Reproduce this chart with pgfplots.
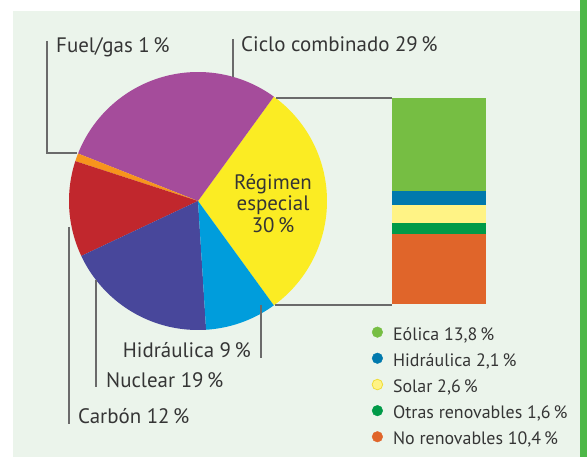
\documentclass[border=0pt]{standalone}
\usepackage{pgfplots}
\pgfplotsset{compat=1.18}
\usepackage{fontspec}
\setmainfont{PT Sans}
\definecolor{cpanel}{HTML}{EBF4EB}
\definecolor{cstrip}{HTML}{4DB848}
\definecolor{cpurple}{HTML}{A54C9B}
\definecolor{cyellow}{HTML}{FBEC23}
\definecolor{cblue}{HTML}{009DDC}
\definecolor{cnuclear}{HTML}{48479B}
\definecolor{cred}{HTML}{C1272D}
\definecolor{corange}{HTML}{F7941D}
\definecolor{bgreen}{HTML}{76BE43}
\definecolor{bblue}{HTML}{0079AD}
\definecolor{bsolar}{HTML}{FFF385}
\definecolor{bsolaredge}{HTML}{EFDD3A}
\definecolor{bdgreen}{HTML}{009A48}
\definecolor{borange}{HTML}{E0652A}
\definecolor{ctext}{HTML}{353535}
\definecolor{cline}{HTML}{6A6A6A}
% pie data (percent) and centre/radius in pixel units
\def\cx{198}\def\cy{201}\def\r{129}
\pgfmathsetmacro\aA{-54}
\pgfmathsetmacro\aB{\aA+3.6*30}% Regimen especial 30
\pgfmathsetmacro\aC{\aB+3.6*29}% Ciclo combinado 29
\pgfmathsetmacro\aD{\aC+3.6*1}%  Fuel/gas 1
\pgfmathsetmacro\aE{\aD+3.6*12}% Carbon 12
\pgfmathsetmacro\aF{\aE+3.6*19}% Nuclear 19
\pgfmathsetmacro\aG{\aF+3.6*9}%  Hidraulica 9
\newcommand\slice[3]{\fill[#3] (\cx,\cy) -- plot[domain=#1:#2, samples=80, variable=\t] ({\cx+\r*cos(\t)},{\cy-\r*sin(\t)}) -- cycle;}
\begin{document}
\begin{tikzpicture}
\begin{axis}[at={(0,0)}, anchor=south west, scale only axis, width=587bp, height=457bp,
  xmin=0, xmax=587, ymin=0, ymax=457, y dir=reverse, axis lines=none, ticks=none, clip=false]
\fill[white] (0,0) rectangle (587,457);
\fill[cpanel] (13,11) rectangle (580,457);
\fill[cstrip] (580,0) rectangle (587,457);
\slice{\aA}{\aB}{cyellow}
\slice{\aB}{\aC}{cpurple}
\slice{\aC}{\aD}{corange}
\slice{\aD}{\aE}{cred}
\slice{\aE}{\aF}{cnuclear}
\slice{\aF}{\aG}{cblue}
\begin{scope}[cline, line width=1.2bp]
\draw (47,41) -- (47,153) -- (77,153);
\draw (233,39) -- (233,77);
\draw (276,98) -- (392,98);
\draw (275,305) -- (392,305);
\draw (261,305) -- (261,358);
\draw (96,280) -- (96,387);
\draw (69,227) -- (69,424);
\end{scope}
\begin{scope}[every node/.style={text=ctext, font=\fontsize{21}{24}\selectfont, inner sep=0pt}]
\node[anchor=base west] at (56,53) {Fuel/gas 1\,\%};
\node[anchor=base west] at (241,52) {Ciclo combinado 29\,\%};
\node[anchor=base east] at (251,357) {Hidráulica 9\,\%};
\node[anchor=base west] at (106,387) {Nuclear 19\,\%};
\node[anchor=base west] at (78,423) {Carbón 12\,\%};
\node[anchor=base] at (273,189) {Régimen};
\node[anchor=base] at (273,210) {especial};
\node[anchor=base] at (273,232) {30\,\%};
\end{scope}
\end{axis}
% stacked bar of "Regimen especial"
\begin{axis}[at={(392bp,153bp)}, anchor=south west, scale only axis, width=94bp, height=206bp,
  xmin=-0.5, xmax=0.5, ymin=0, ymax=30.5, axis lines=none, ticks=none, clip=false,
  ybar stacked, bar width=94bp, enlargelimits=false]
\addplot[fill=borange, draw=none] coordinates {(0,10.4)};
\addplot[fill=bdgreen, draw=none] coordinates {(0,1.6)};
\addplot[fill=bsolar, draw=none] coordinates {(0,2.6)};
\addplot[fill=bblue, draw=none] coordinates {(0,2.1)};
\addplot[fill=bgreen, draw=none] coordinates {(0,13.8)};
\end{axis}
% legend
\begin{axis}[at={(392bp,153bp)}, anchor=south west, scale only axis, width=94bp, height=206bp,
  xmin=0, xmax=1, ymin=0, ymax=1, hide axis, clip=false,
  legend image code/.code={\draw[#1] (0bp,4.2bp) circle (5.3bp);},
  legend style={at={(-0.218,-0.109)}, anchor=north west, draw=none, fill=none,
    font=\fontsize{18}{20}\selectfont, text=ctext, row sep=9.4bp, inner sep=0pt,
    nodes={inner sep=0pt, text height=11bp, text depth=3bp},
    /tikz/every odd column/.append style={column sep=10bp}, legend cell align=left}]
\addlegendimage{fill=bgreen, draw=bgreen}
\addlegendentry{Eólica 13,8\,\%}
\addlegendimage{fill=bblue, draw=bblue}
\addlegendentry{Hidráulica 2,1\,\%}
\addlegendimage{fill=bsolar, draw=bsolaredge, line width=0.8bp}
\addlegendentry{Solar 2,6\,\%}
\addlegendimage{fill=bdgreen, draw=bdgreen}
\addlegendentry{Otras renovables 1,6\,\%}
\addlegendimage{fill=borange, draw=borange}
\addlegendentry{No renovables 10,4\,\%}
\end{axis}
\end{tikzpicture}
\end{document}
